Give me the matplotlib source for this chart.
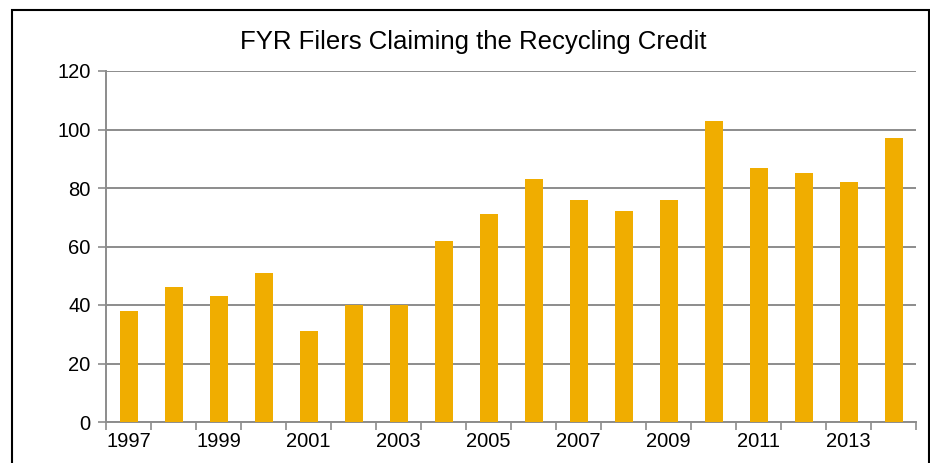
import matplotlib.pyplot as plt
import matplotlib.patches as patches
import numpy as np

plt.rcParams['font.family'] = ['Liberation Sans', 'DejaVu Sans']

# 年份和数据
years = list(range(1997, 2015))
filers = [38, 46, 43, 51, 31, 40, 40, 62, 71, 83, 76, 72, 76, 103, 87, 85, 82, 97]

fig = plt.figure(figsize=(9.3, 4.63), dpi=100, facecolor='white')

# 外边框（底部被截掉）
border = patches.Rectangle((12 / 930, -0.05), (929 - 12) / 930, 1 - 10 / 463 + 0.05,
                           transform=fig.transFigure, fill=False,
                           edgecolor='black', linewidth=1.5)
fig.patches.append(border)

ax = fig.add_axes([106 / 930, 1 - 422 / 463, (916 - 106) / 930, (422 - 71) / 463])

x = np.arange(len(years))
ax.bar(x, filers, width=0.4, color='#F0AD00', zorder=3)

ax.set_xlim(-0.5, len(years) - 0.5)
ax.set_ylim(0, 120)
ax.set_yticks(range(0, 121, 20))
ax.yaxis.grid(True, color='#8C8C8C', linewidth=1.4, zorder=0)

# x轴刻度：类别边界处画刻度线，隔年标注
ax.set_xticks(np.arange(-0.5, len(years), 1.0))
ax.set_xticklabels([])
ax.set_xticks(x[::2], minor=True)
ax.set_xticklabels([str(y) for y in years[::2]], minor=True)
ax.tick_params(axis='x', which='minor', length=0, labelsize=14.5, pad=7)
ax.tick_params(axis='x', which='major', length=6, color='#8C8C8C', width=1.2)
ax.tick_params(axis='y', length=6, color='#8C8C8C', width=1.2, labelsize=14.5, pad=5)

for s in ['top', 'right']:
    ax.spines[s].set_visible(False)
for s in ['left', 'bottom']:
    ax.spines[s].set_color('#8C8C8C')
    ax.spines[s].set_linewidth(1.4)

fig.text(473 / 930, 1 - 42 / 463, 'FYR Filers Claiming the Recycling Credit',
         ha='center', va='center', fontsize=18.5)

plt.savefig('out.png', dpi=100, facecolor='white')
